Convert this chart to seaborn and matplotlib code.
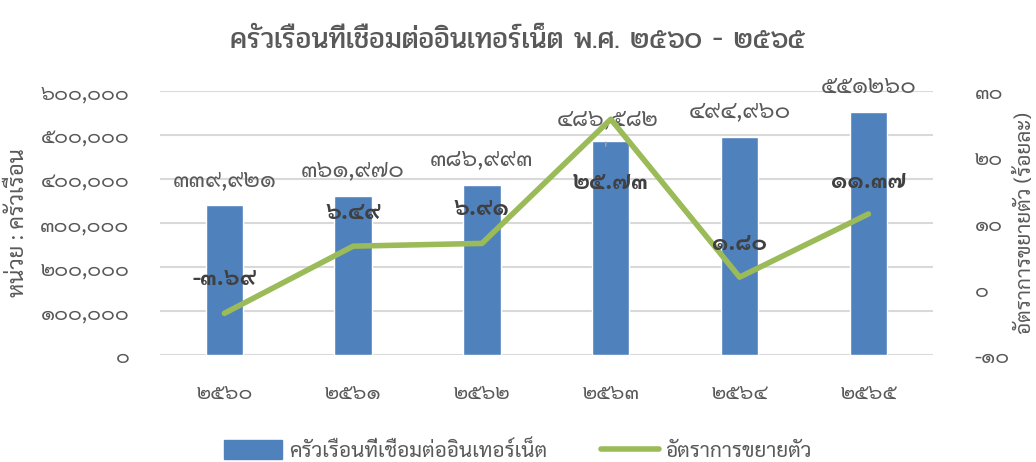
import matplotlib
matplotlib.use("Agg")
import matplotlib.pyplot as plt
from matplotlib import font_manager
from matplotlib.patches import Patch
from matplotlib.lines import Line2D
import seaborn as sns
import numpy as np
import pandas as pd

# ---------------- data ----------------
years = ["2560", "2561", "2562", "2563", "2564", "2565"]
households = [339921, 361970, 386993, 486582, 494960, 551260]
growth = [-3.69, 6.49, 6.91, 25.73, 1.80, 11.37]
bar_labels = ["339,921", "361,970", "386,993", "486,582", "494,960", "551260"]
growth_labels = ["-3.69", "6.49", "6.91", "25.73", "1.80", "11.37"]
left_ticks = [0, 100000, 200000, 300000, 400000, 500000, 600000]
right_ticks = [-10, 0, 10, 20, 30]

title = "ครัวเรือนที่เชื่อมต่ออินเทอร์เน็ต พ.ศ. 2560 - 2565"
left_label = "หน่วย : ครัวเรือน"
right_label = "อัตราการขยายตัว (ร้อยละ)"
series_bar = "ครัวเรือนที่เชื่อมต่ออินเทอร์เน็ต"
series_line = "อัตราการขยายตัว"

TH = str.maketrans("0123456789", "๐๑๒๓๔๕๖๗๘๙")
def th(s):
    return str(s).translate(TH)

# ---------------- fonts ----------------
avail = {f.name for f in font_manager.fontManager.ttflist}
def pick(prefs):
    for p in prefs:
        if p in avail:
            return p
    return "DejaVu Sans"
body_font = pick(["Sarabun", "Noto Sans Thai", "Noto Sans Thai Looped", "Anuphan", "Bai Jamjuree", "Athiti"])
title_font = pick(["Pridi", "Athiti", "Sarabun", "Noto Sans Thai", "Anuphan"])

sns.set_theme(style="white")
plt.rcParams["font.family"] = [body_font, "DejaVu Sans"]

BLUE = "#4F81BD"
GREEN = "#9BBB59"
GRAY = "#595959"
DARK = "#404040"

fig = plt.figure(figsize=(10.36, 4.62), dpi=100)
ax = fig.add_axes([0.1544, 0.2316, 0.746, 0.5714])

df = pd.DataFrame({"year": years, "households": households, "growth": growth,
                   "pos": np.arange(len(years))})

sns.barplot(data=df, x="year", y="households", color=BLUE, width=0.29,
            saturation=1, ax=ax, zorder=3)
ax.set_ylim(0, 600000)
ax.set_xlim(-0.5, len(years) - 0.5)
ax.set_yticks(left_ticks)
ax.set_yticklabels([th(f"{v:,}") for v in left_ticks], fontsize=15, color=GRAY)
ax.set_xticks(range(len(years)))
ax.set_xticklabels([th(y) for y in years], fontsize=15, color=GRAY)
ax.tick_params(axis="x", length=0, pad=20)
ax.tick_params(axis="y", length=0, pad=22)
ax.yaxis.grid(True, color="#D9D9D9", linewidth=1.5, zorder=0)
ax.set_axisbelow(True)
for s in ax.spines.values():
    s.set_visible(False)
ax.set_xlabel("")
ax.set_ylabel(left_label, fontsize=16, color=GRAY, labelpad=8)

ax2 = ax.twinx()
sns.lineplot(data=df, x="pos", y="growth", color=GREEN, linewidth=4, ax=ax2,
             zorder=4, legend=False)
ax2.set_ylim(-10, 30)
ax2.set_xlim(-0.5, len(years) - 0.5)
ax2.set_yticks(right_ticks)
ax2.set_yticklabels([th(v) for v in right_ticks], fontsize=15, color=GRAY)
ax2.tick_params(axis="y", length=0, pad=30)
ax2.set_xlabel("")
ax2.set_ylabel(right_label, fontsize=15, color=GRAY, rotation=90, labelpad=4)
ax2.grid(False)
for s in ax2.spines.values():
    s.set_visible(False)

# bar value labels
for i, (v, lab) in enumerate(zip(households, bar_labels)):
    if i == 3:
        ax.annotate(th(lab), xy=(i - 0.04, v - 12000), xytext=(2, 27),
                    textcoords="offset pixels", ha="center", va="center",
                    fontsize=17, color=GRAY, zorder=6,
                    arrowprops=dict(arrowstyle="-", color="#A6A6A6", lw=1,
                                    shrinkA=6, shrinkB=0))
    else:
        ax.annotate(th(lab), xy=(i, v), xytext=(0, 26), textcoords="offset pixels",
                    ha="center", va="center", fontsize=17, color=GRAY, zorder=6)

# growth labels
offsets = [34, 34, 34, -63, 33, 32]
for i, (v, lab) in enumerate(zip(growth, growth_labels)):
    ax2.annotate(th(lab), xy=(i, v), xytext=(0, offsets[i]), textcoords="offset pixels",
                 ha="center", va="center", fontsize=17, fontweight="bold",
                 color=DARK, zorder=6)

fig.suptitle(th(title), x=0.50, y=0.94, fontsize=21, color=GRAY, fontweight="normal",
             family=[title_font, "DejaVu Sans"])

handles = [Patch(facecolor=BLUE, edgecolor=BLUE),
           Line2D([0], [0], color=GREEN, linewidth=4, solid_capstyle="round")]
leg = fig.legend(handles, [series_bar, series_line], loc="lower center",
                 bbox_to_anchor=(0.5, -0.04), ncol=2, frameon=False, fontsize=15,
                 handlelength=2.8, handleheight=1.0, columnspacing=2.6, handletextpad=0.3)
for t in leg.get_texts():
    t.set_color(GRAY)

fig.savefig("out.png", dpi=100)
